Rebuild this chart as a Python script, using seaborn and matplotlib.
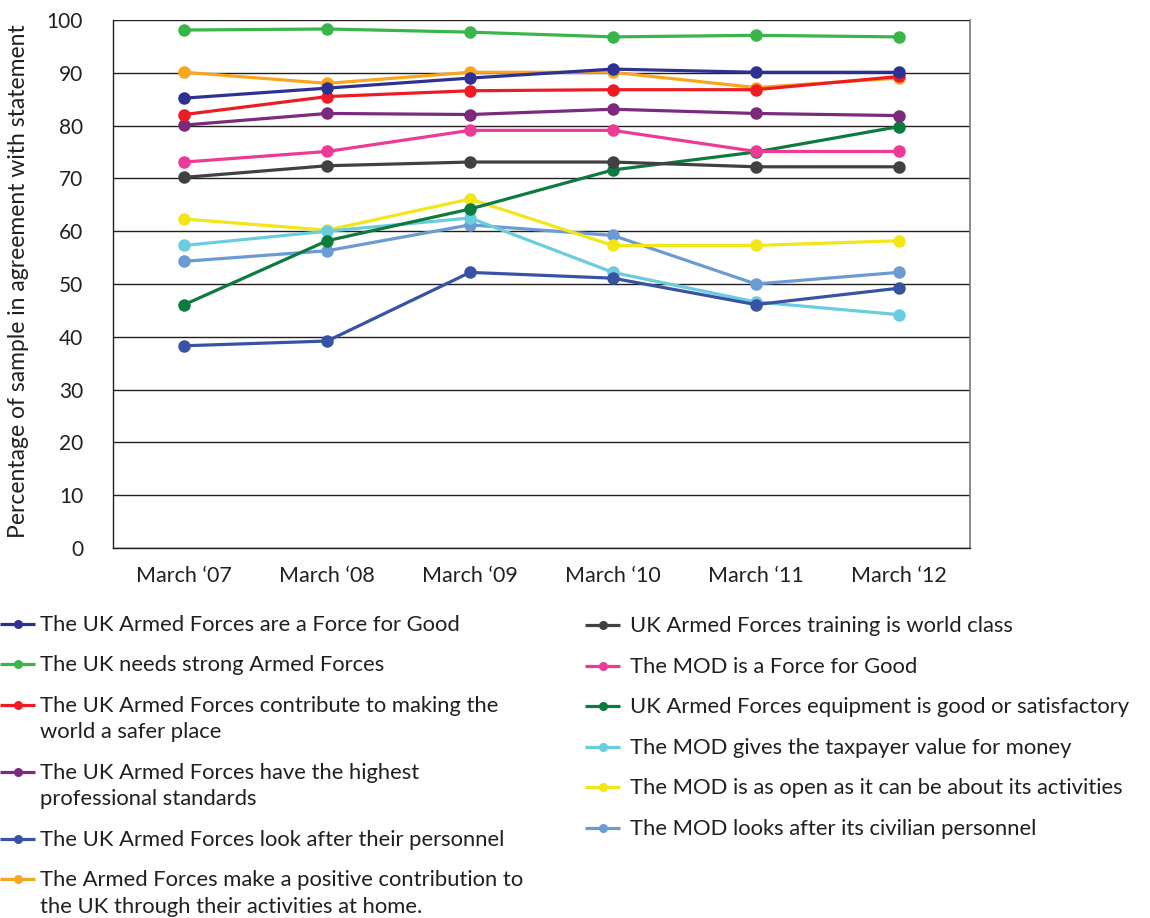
import matplotlib
matplotlib.use("Agg")
import matplotlib.pyplot as plt
from matplotlib.lines import Line2D
import seaborn as sns
import pandas as pd

periods = ["March \u201807", "March \u201808", "March \u201809", "March \u201810", "March \u201811", "March \u201812"]

series_names = [
    "The UK Armed Forces are a Force for Good",
    "The UK needs strong Armed Forces",
    "The UK Armed Forces contribute to making the\nworld a safer place",
    "The UK Armed Forces have the highest\nprofessional standards",
    "The UK Armed Forces look after their personnel",
    "The Armed Forces make a positive contribution to\nthe UK through their activities at home.",
    "UK Armed Forces training is world class",
    "The MOD is a Force for Good",
    "UK Armed Forces equipment is good or satisfactory",
    "The MOD gives the taxpayer value for money",
    "The MOD is as open as it can be about its activities",
    "The MOD looks after its civilian personnel",
]

force_for_good = [85.2, 87.1, 89.0, 90.7, 90.1, 90.1]
needs_strong = [98.1, 98.3, 97.7, 96.8, 97.1, 96.8]
safer_world = [82.1, 85.5, 86.6, 86.8, 86.8, 89.3]
professional = [80.1, 82.3, 82.1, 83.1, 82.3, 81.9]
look_after = [38.3, 39.2, 52.2, 51.1, 46.1, 49.2]
positive_home = [90.1, 88.0, 90.1, 90.1, 87.2, 89.0]
training = [70.2, 72.4, 73.1, 73.1, 72.2, 72.2]
mod_good = [73.1, 75.1, 79.1, 79.1, 75.1, 75.1]
equipment = [46.1, 58.2, 64.2, 71.6, 75.0, 79.8]
value_money = [57.3, 60.0, 62.5, 52.2, 46.6, 44.2]
mod_open = [62.3, 60.2, 66.1, 57.3, 57.3, 58.2]
civilian = [54.3, 56.3, 61.2, 59.2, 50.0, 52.2]

all_values = [force_for_good, needs_strong, safer_world, professional, look_after,
              positive_home, training, mod_good, equipment, value_money, mod_open, civilian]

colors = ["#2e3192", "#39b54a", "#ed1c24", "#7b2a7e", "#3953a4", "#f9a51d",
          "#414042", "#ec3a96", "#0c7b3e", "#6accdf", "#f2e619", "#6a9bd3"]

y_ticks = [0, 10, 20, 30, 40, 50, 60, 70, 80, 90, 100]

rows = []
for name, vals in zip(series_names, all_values):
    for i, v in enumerate(vals):
        rows.append({"series": name, "x": i, "value": v})
df = pd.DataFrame(rows)

sns.set_style("white")
plt.rcParams["font.family"] = ["Lato", "DejaVu Sans"]
text_color = "#231f20"

W, H = 1150, 918
fig = plt.figure(figsize=(W / 100, H / 100), dpi=100)
ax = fig.add_axes([113 / W, 1 - 548 / H, (970 - 113) / W, (548 - 20) / H])

palette = dict(zip(series_names, colors))
sns.lineplot(data=df, x="x", y="value", hue="series", hue_order=series_names[::-1],
             palette=palette, marker="o", markersize=9, markeredgewidth=0,
             linewidth=2.3, legend=False, ax=ax, zorder=3)

ax.set_xlim(-0.5, len(periods) - 0.5)
ax.set_ylim(0, 100)
ax.set_yticks(y_ticks)
ax.set_yticklabels([str(t) for t in y_ticks], fontsize=15, color=text_color)
ax.set_xticks([i - 0.5 for i in range(len(periods) + 1)])
ax.set_xticklabels([])
ax.set_xticks(range(len(periods)), minor=True)
ax.set_xticklabels(periods, minor=True, fontsize=15.5, color=text_color)
ax.tick_params(axis="x", which="major", length=10, width=1, color=text_color, direction="out")
ax.tick_params(axis="x", which="minor", length=0, pad=13)
ax.tick_params(axis="y", which="major", length=11.5, width=1, color=text_color,
               direction="out", pad=10)
ax.grid(axis="y", color=text_color, linewidth=1)
ax.set_axisbelow(True)
ax.set_xlabel("")
ax.set_ylabel("Percentage of sample in agreement with statement", fontsize=16.5,
              color=text_color, va="center", ha="center")
ax.yaxis.set_label_coords((19 - 113) / (970 - 113), 0.505)
for s in ["left", "bottom"]:
    ax.spines[s].set_color(text_color)
    ax.spines[s].set_linewidth(1)
ax.spines["top"].set_visible(False)
ax.spines["right"].set_color("#777777")
ax.spines["right"].set_linewidth(1.2)

# legend drawn manually (two columns, handle aligned with first text line)
def fx(px):
    return px / W

def fy(py):
    return 1 - py / H

col_specs = [
    (0, 35, 40, 624, 40.3, 26.7, range(0, 6)),
    (585, 620, 630, 625, 40.6, 26.7, range(6, 12)),
]
for x0, x1, xt, y_start, pitch, line_h, idxs in col_specs:
    y = y_start
    for k in idxs:
        c = colors[k]
        fig.add_artist(Line2D([fx(x0), fx(x1)], [fy(y), fy(y)], transform=fig.transFigure,
                              color=c, lw=2.3, solid_capstyle="butt"))
        fig.add_artist(Line2D([fx((x0 + x1) / 2)], [fy(y)], transform=fig.transFigure,
                              color=c, marker="o", markersize=6.5, markeredgewidth=0,
                              linestyle="none"))
        lines = series_names[k].split("\n")
        for j, line in enumerate(lines):
            fig.text(fx(xt), fy(y + 1 + j * line_h), line, fontsize=15.8, color=text_color,
                     ha="left", va="center")
        y += pitch + (len(lines) - 1) * line_h

fig.savefig("out.png", dpi=100)
